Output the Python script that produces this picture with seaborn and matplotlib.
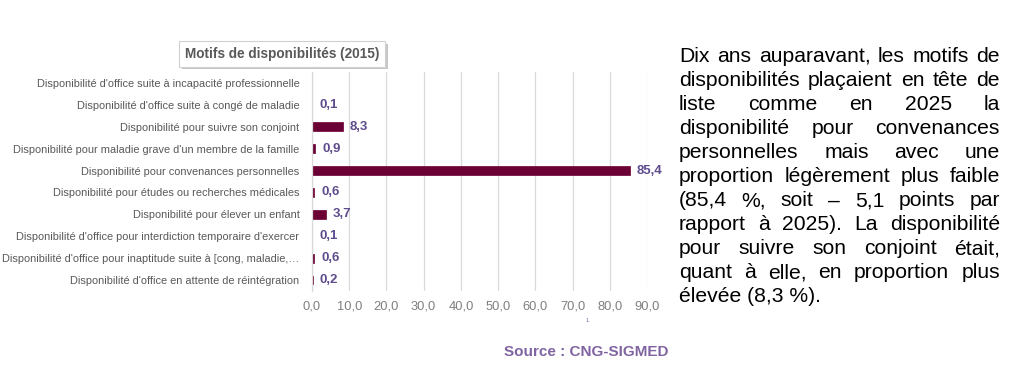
import numpy as np
import pandas as pd
import seaborn as sns
import matplotlib
matplotlib.use("Agg")
from matplotlib import pyplot as plt
from matplotlib import patheffects as pe

sns.set_theme(style="white")
plt.rcParams["font.family"] = ["Liberation Sans", "DejaVu Sans"]

# données
motifs = [
    "Disponibilité d'office suite à incapacité professionnelle",
    "Disponibilité d'office suite à congé de maladie",
    "Disponibilité pour suivre son conjoint",
    "Disponibilité pour maladie grave d'un membre de la famille",
    "Disponibilité pour convenances personnelles",
    "Disponibilité pour études ou recherches médicales",
    "Disponibilité pour élever un enfant",
    "Disponibilité d'office pour interdiction temporaire d'exercer",
    "Disponibilité d'office pour inaptitude suite à [cong, maladie,…",
    "Disponibilité d'office en attente de réintégration",
]
pourcentages = [np.nan, 0.1, 8.3, 0.9, 85.4, 0.6, 3.7, 0.1, 0.6, 0.2]
graduations = [0, 10, 20, 30, 40, 50, 60, 70, 80, 90]

titre = "Motifs de disponibilités (2015)"
source = "Source : CNG-SIGMED"
paragraphe = [
    "Dix ans auparavant, les motifs de",
    "disponibilités plaçaient en tête de",
    "liste comme en 2025 la",
    "disponibilité pour convenances",
    "personnelles mais avec une",
    "proportion légèrement plus faible",
    "(85,4 %, soit – 5,1 points par",
    "rapport à 2025). La disponibilité",
    "pour suivre son conjoint était,",
    "quant à elle, en proportion plus",
    "élevée (8,3 %).",
]

bordeaux = "#6B0034"
violet = "#5E4C8C"
gris = "#595959"

W, H = 1023, 375
fig = plt.figure(figsize=(W / 100, H / 100), dpi=100)
ax = fig.add_axes([312 / W, 1 - 291 / H, (647 - 312) / W, (291 - 72) / H])

df = pd.DataFrame({"motif": motifs, "pct": pourcentages})
sns.barplot(data=df, x="pct", y="motif", order=motifs, color=bordeaux,
            saturation=1, width=0.4, orient="h", ax=ax, errorbar=None,
            edgecolor=bordeaux, linewidth=0.5)

ax.set_xlim(0, 90)
ax.set_xticks(graduations)
ax.set_xticklabels([f"{g:.1f}".replace(".", ",") for g in graduations],
                   fontsize=9.3, color="#7F7F7F")
ax.tick_params(axis="x", length=0, pad=7)
ax.tick_params(axis="y", length=0, pad=9, labelsize=7.9, labelcolor=gris)
ax.set_xlabel("")
ax.set_ylabel("")
ax.xaxis.grid(True, color="#D9D9D9", linewidth=0.9)
ax.set_axisbelow(True)
for s in ["top", "right", "bottom"]:
    ax.spines[s].set_visible(False)
ax.spines["left"].set_color("#D9D9D9")
ax.spines["left"].set_linewidth(0.9)

for i, v in enumerate(pourcentages):
    if np.isnan(v):
        continue
    ax.annotate(f"{v:.1f}".replace(".", ","), (v, i), xytext=(5, 0),
                textcoords="offset points", va="center", ha="left",
                fontsize=9.5, fontweight="bold", color=violet, clip_on=False)

t = fig.text(282 / W, 1 - 54 / H, titre, ha="center", va="center",
             fontsize=9.8, fontweight="bold", color=gris,
             bbox=dict(boxstyle="square,pad=0.42", facecolor="white",
                       edgecolor="#D0D0D0", linewidth=0.8))
t.get_bbox_patch().set_path_effects(
    [pe.SimplePatchShadow(offset=(2, -2), shadow_rgbFace="#A0A0A0", alpha=0.6),
     pe.Normal()])

fig.text(586 / W, 1 - 352 / H, source, ha="center", va="center",
         fontsize=11, fontweight="bold", color="#8064A2")
fig.text(588 / W, 1 - 321 / H, "1.", ha="center", va="center",
         fontsize=4, color="#8064A2")

# paragraphe justifié à droite du graphique
renderer = fig.canvas.get_renderer()
x0, x1 = 679, 1000
y_haut, pas = 57, 24.0
taille = 15.2
for k, ligne in enumerate(paragraphe):
    y = 1 - (y_haut + k * pas) / H
    mots = ligne.split(" ")
    if k == len(paragraphe) - 1 or len(mots) == 1:
        fig.text(x0 / W, y, ligne, ha="left", va="center", fontsize=taille, color="black")
        continue
    objets = [fig.text(0, y, m, ha="left", va="center", fontsize=taille, color="black")
              for m in mots]
    largeurs = [o.get_window_extent(renderer).width for o in objets]
    espace = ((x1 - x0) - sum(largeurs)) / (len(mots) - 1)
    x = x0
    for o, l in zip(objets, largeurs):
        o.set_x(x / W)
        x += l + espace

fig.savefig("out.png", dpi=100, facecolor="white")
